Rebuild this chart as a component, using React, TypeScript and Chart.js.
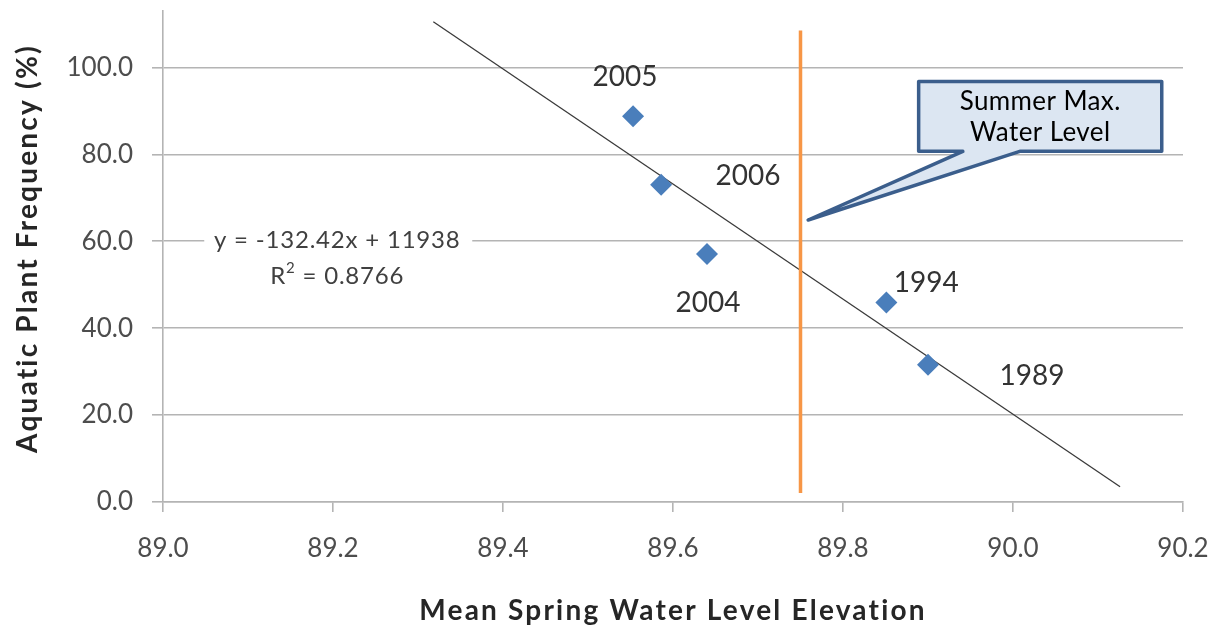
import React, { useEffect, useRef } from "react";
import { Chart, registerables } from "chart.js";

Chart.register(...registerables);

// Survey years and their measurements
const years = ["2005", "2006", "2004", "1994", "1989"];
const springElevation = [89.553, 89.586, 89.64, 89.851, 89.9];
const plantFrequency = [88.8, 73.0, 57.1, 45.9, 31.6];

// Linear trendline (least squares fit reported on the chart)
const trendSlope = -132.42;
const trendIntercept = 11938;
const trendRange = [89.318, 90.126];
const trendEquation = "y = -132.42x + 11938";
const trendR2 = "0.8766";

// Summer maximum water level marker
const summerMaxLevel = 89.75;
const summerMaxSpan = [2.1, 108.5];

// Axis ranges, ticks and titles
const xRange = [89.0, 90.2];
const xStep = 0.2;
const yRange = [0, 113];
const yStep = 20;
const xTitle = "Mean Spring Water Level Elevation";
const yTitle = "Aquatic Plant Frequency (%)";

const FONT = "Lato, 'Open Sans', sans-serif";

// pixel offsets of each year label from its marker
const labelOffsets: [number, number][] = [
  [-8, -39],
  [87, -9],
  [1, 49],
  [40, -20],
  [104, 11],
];

// callout box, in data units
const callout = {
  lines: ["Summer Max.", "Water Level"],
  left: 89.889,
  right: 90.175,
  top: 96.8,
  bottom: 80.7,
  baseA: 89.941,
  baseB: 90.008,
  tipX: 89.759,
  tipY: 64.9,
};

const overlayPlugin = {
  id: "overlay",
  beforeDatasetsDraw(chart: any) {
    const { ctx, scales } = chart;
    const x = scales.x;
    const y = scales.y;
    // trendline equation label
    const cx = x.getPixelForValue(89.205);
    const cy = y.getPixelForValue(60);
    ctx.save();
    ctx.fillStyle = "#ffffff";
    ctx.fillRect(cx - 133, cy - 18, 268, 70);
    ctx.fillStyle = "#404040";
    ctx.font = `24px ${FONT}`;
    ctx.textAlign = "center";
    ctx.textBaseline = "middle";
    (ctx as any).letterSpacing = "0.8px";
    ctx.fillText(trendEquation, cx, cy - 1);
    const r2Main = "R";
    const r2Rest = " = " + trendR2;
    const wR = ctx.measureText(r2Main).width;
    ctx.font = `15px ${FONT}`;
    const wSup = ctx.measureText("2").width;
    ctx.font = `24px ${FONT}`;
    const wRest = ctx.measureText(r2Rest).width;
    const total = wR + wSup + wRest;
    let sx = cx - total / 2;
    ctx.textAlign = "left";
    ctx.fillText(r2Main, sx, cy + 35);
    sx += wR;
    ctx.font = `15px ${FONT}`;
    ctx.fillText("2", sx, cy + 27);
    sx += wSup;
    ctx.font = `24px ${FONT}`;
    ctx.fillText(r2Rest, sx, cy + 35);
    ctx.restore();
  },
  afterDatasetsDraw(chart: any) {
    const { ctx, scales } = chart;
    const x = scales.x;
    const y = scales.y;
    ctx.save();
    // year labels next to markers
    const meta = chart.getDatasetMeta(1);
    ctx.font = `28px ${FONT}`;
    ctx.fillStyle = "#333333";
    ctx.textAlign = "center";
    ctx.textBaseline = "middle";
    meta.data.forEach((pt: any, i: number) => {
      const [dx, dy] = labelOffsets[i];
      ctx.fillText(years[i], pt.x + dx, pt.y + dy);
    });

    // callout shape
    const l = x.getPixelForValue(callout.left);
    const r = x.getPixelForValue(callout.right);
    const t = y.getPixelForValue(callout.top);
    const b = y.getPixelForValue(callout.bottom);
    const ba = x.getPixelForValue(callout.baseA);
    const bb = x.getPixelForValue(callout.baseB);
    const tx = x.getPixelForValue(callout.tipX);
    const ty = y.getPixelForValue(callout.tipY);
    ctx.beginPath();
    ctx.moveTo(l, t);
    ctx.lineTo(r, t);
    ctx.lineTo(r, b);
    ctx.lineTo(bb, b);
    ctx.lineTo(tx, ty);
    ctx.lineTo(ba, b);
    ctx.lineTo(l, b);
    ctx.closePath();
    ctx.fillStyle = "#DCE6F2";
    ctx.fill();
    ctx.lineWidth = 3.5;
    ctx.lineJoin = "round";
    ctx.strokeStyle = "#3B5E8C";
    ctx.stroke();

    ctx.fillStyle = "#000000";
    ctx.font = `26px ${FONT}`;
    (ctx as any).letterSpacing = "0.4px";
    ctx.textAlign = "center";
    ctx.textBaseline = "alphabetic";
    const mx = (l + r) / 2;
    const my = (t + b) / 2;
    ctx.fillText(callout.lines[0], mx, my - 6);
    ctx.fillText(callout.lines[1], mx, my + 25);
    ctx.restore();
  },
  afterDraw(chart: any) {
    const { ctx, chartArea } = chart;
    ctx.save();
    ctx.fillStyle = "#262626";
    ctx.font = `bold 28px ${FONT}`;
    (ctx as any).letterSpacing = "2.2px";
    ctx.textAlign = "center";
    ctx.textBaseline = "middle";
    // x axis title
    ctx.fillText(xTitle, (chartArea.left + chartArea.right) / 2, 611);
    // y axis title
    ctx.translate(28, (chartArea.top + chartArea.bottom) / 2 - 8);
    ctx.rotate(-Math.PI / 2);
    ctx.fillText(yTitle, 0, 0);
    ctx.restore();
  },
};

export default function App() {
  const canvasRef = useRef<HTMLCanvasElement | null>(null);

  useEffect(() => {
    const canvas = canvasRef.current;
    if (!canvas) return;
    const points = springElevation.map((v, i) => ({ x: v, y: plantFrequency[i] }));
    const trend = trendRange.map((v) => ({ x: v, y: trendSlope * v + trendIntercept }));
    const summerLine = summerMaxSpan.map((v) => ({ x: summerMaxLevel, y: v }));

    const chart = new Chart(canvas, {
      type: "scatter",
      data: {
        datasets: [
          {
            type: "line",
            label: "Summer Max. Water Level",
            data: summerLine,
            borderColor: "#F79646",
            borderWidth: 3.5,
            pointRadius: 0,
          },
          {
            label: "Aquatic Plant Frequency",
            data: points,
            pointStyle: "rectRot",
            pointRadius: 11,
            backgroundColor: "#4A7EBB",
            borderColor: "#4A7EBB",
            borderWidth: 0,
          },
          {
            type: "line",
            label: "Linear trend",
            data: trend,
            borderColor: "#3a3a3a",
            borderWidth: 1.3,
            pointRadius: 0,
          },
        ],
      },
      options: {
        responsive: false,
        animation: false,
        layout: { padding: { left: 0, right: 35, top: 9, bottom: 0 } },
        plugins: {
          legend: { display: false },
          tooltip: { enabled: false },
        },
        scales: {
          x: {
            type: "linear",
            min: xRange[0],
            max: xRange[1],
            afterFit: (s: any) => {
              s.height = 127;
              s.paddingLeft = 0;
              s.paddingRight = 0;
            },
            ticks: {
              stepSize: xStep,
              callback: (v: any) => Number(v).toFixed(1),
              font: { family: FONT, size: 26 },
              color: "#4D4D4D",
              padding: 21,
              maxRotation: 0,
            },
            grid: {
              drawOnChartArea: false,
              drawTicks: true,
              tickLength: 10,
              color: "#B4B4B4",
              lineWidth: 1.6,
            },
            border: { color: "#B4B4B4", width: 1.6 },
            title: { display: false },
          },
          y: {
            type: "linear",
            min: yRange[0],
            max: yRange[1],
            afterFit: (s: any) => {
              s.width = 163;
              s.paddingTop = 0;
              s.paddingBottom = 0;
            },
            ticks: {
              stepSize: yStep,
              includeBounds: false,
              callback: (v: any) => Number(v).toFixed(1),
              font: { family: FONT, size: 26 },
              color: "#4D4D4D",
              padding: 19,
            },
            grid: {
              color: "#B4B4B4",
              lineWidth: 1.6,
              tickLength: 11,
            },
            border: { color: "#B4B4B4", width: 1.6 },
            title: { display: false },
          },
        },
      } as any,
      plugins: [overlayPlugin],
    });
    return () => chart.destroy();
  }, []);

  return (
    <div style={{ position: "fixed", left: 0, top: 0, width: 1218, height: 629, background: "#ffffff" }}>
      <canvas ref={canvasRef} width={1218} height={629} />
    </div>
  );
}
